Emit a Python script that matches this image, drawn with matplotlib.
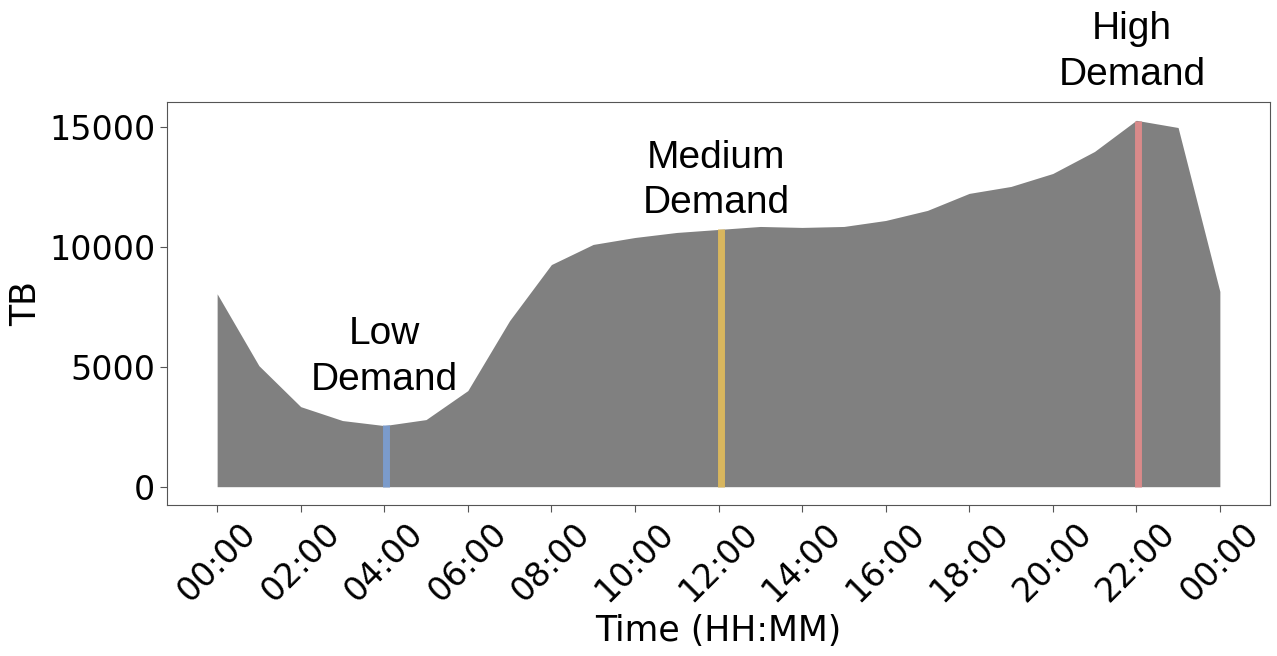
import os
import numpy as np
import matplotlib
import matplotlib.pyplot as plt
from matplotlib import font_manager
from matplotlib.ticker import FuncFormatter

# usa a DejaVu que vem junto com o matplotlib
dejavu_path = os.path.join(matplotlib.get_data_path(), 'fonts', 'ttf', 'DejaVuSans.ttf')
font_manager.fontManager.addfont(dejavu_path)
dv = font_manager.FontProperties(fname=dejavu_path)

# trafego por hora (TB), 00:00 ate 24:00
hours = list(range(0, 25))
traffic = [8050, 5050, 3340, 2760, 2550, 2800, 4010, 6930, 9270, 10110,
           10400, 10610, 10735, 10860, 10820, 10860, 11110, 11530, 12240,
           12530, 13070, 13990, 15290, 14990, 8150]

# marcadores de demanda
demand_labels = ['Low\nDemand', 'Medium\nDemand', 'High\nDemand']
demand_hours = [4.05, 12.05, 22.05]
demand_colors = ['#7b9bcb', '#d8b65e', '#d98a8a']
label_pos = [(4.0, 5400), (11.95, 12780), (21.9, 18130)]

fig, ax = plt.subplots(figsize=(12.77, 6.56), dpi=100)
fig.subplots_adjust(left=167/1277, right=1270/1277, top=1-102/656, bottom=1-505/656)

ax.fill_between(hours, 0, traffic, color='gray', linewidth=0)

for h, c, lab, pos in zip(demand_hours, demand_colors, demand_labels, label_pos):
    top = np.interp(h, hours, traffic)
    ax.vlines(h, 0, top, colors=c, linewidth=5)
    ax.text(pos[0], pos[1], lab, ha='center', va='center', fontsize=28,
            family='Liberation Sans', linespacing=1.35, clip_on=False)

ax.set_xticks(range(0, 25, 2))
ax.xaxis.set_major_formatter(FuncFormatter(lambda x, p: '%02d:00' % (int(x) % 24)))
ax.set_yticks([0, 5000, 10000, 15000])
ax.tick_params(axis='both', length=5, color='#555555')
for lbl in ax.get_xticklabels():
    lbl.set_fontproperties(dv)
    lbl.set_fontsize(24)
    lbl.set_rotation(45)
for lbl in ax.get_yticklabels():
    lbl.set_fontproperties(dv)
    lbl.set_fontsize(24)
ax.set_xlabel('Time (HH:MM)', fontproperties=dv, fontsize=25)
ax.set_ylabel('TB', fontproperties=dv, fontsize=25)
for s in ax.spines.values():
    s.set_color('#555555')

fig.savefig('out.png', dpi=100)
